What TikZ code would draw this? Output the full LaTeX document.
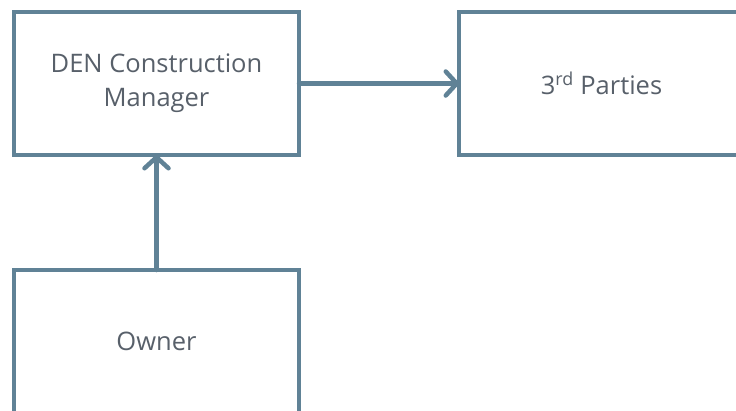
\documentclass[tikz,border=0pt]{standalone}
\usepackage{fontspec}
\setmainfont{Open Sans}
\usepackage{xcolor}
\usetikzlibrary{arrows.meta,positioning}

\definecolor{boxline}{RGB}{96,130,150}
\definecolor{boxtext}{RGB}{88,96,106}

\begin{document}
\begin{tikzpicture}[
  x=1pt, y=1pt,
  font=\fontsize{25.5}{34}\selectfont,
  box/.style={draw=boxline, line width=4.5pt, fill=white, text=boxtext,
    minimum width=285pt, minimum height=143pt, align=center,
    outer sep=0pt, inner sep=0pt},
  flow/.style={draw=boxline, line width=4.5pt, line cap=round,
    -{Straight Barb[length=11pt, width=24pt, round]}}
]
% Rahmen der Abbildung
\useasboundingbox (0,0) rectangle (736,-410);
\clip (0,0) rectangle (736,-410);

% Boxen
\node (den) [box] at (156.5,-83.5) {DEN Construction\\Manager};
\node (parties) [box, right=160pt of den] {3\textsuperscript{rd} Parties};
\node (owner) [box, below=115pt of den] {Owner};

% Pfeile
\draw[flow] (den.east) -- (parties.west);
\draw[flow] (owner.north) -- (den.south);
\end{tikzpicture}
\end{document}
